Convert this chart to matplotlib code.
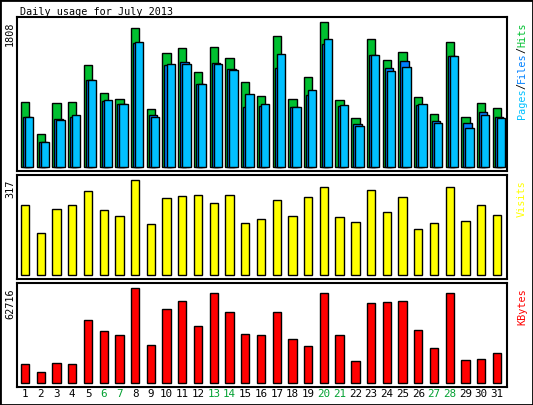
import matplotlib
matplotlib.use("Agg")
import matplotlib.pyplot as plt
from matplotlib.patches import Rectangle

days = list(range(1, 32))
weekend = [6, 7, 13, 14, 20, 21, 27, 28]
hits = [810,411,798,810,1272,923,848,1733,723,1421,1484,1184,1496,1359,1060,885,1633,848,1122,1808,835,611,1596,1334,1434,873,661,1558,623,798,736]
files = [623,312,598,623,1085,823,785,1546,648,1272,1309,1035,1297,1222,748,761,1234,748,898,1534,761,536,1396,1234,1322,773,574,1384,549,686,623]
pages = [623,312,586,648,1085,835,785,1559,623,1284,1284,1035,1284,1209,910,785,1409,748,960,1596,773,511,1396,1197,1247,785,549,1384,486,648,611]
visits = [234,140,220,234,280,217,197,317,170,257,264,267,240,267,174,187,250,197,260,294,194,177,284,210,260,154,174,294,180,234,200]
kbytes = [12543,7262,13204,12543,41591,34329,31689,62716,25087,48853,54135,37630,59416,46873,32349,31689,46873,29048,24427,59416,31689,14524,52815,53475,54135,34990,23106,59416,15184,15844,19806]

W, H = 533, 405
fig = plt.figure(figsize=(W/100, H/100), dpi=100, facecolor="white")
fig.add_artist(Rectangle((0, 0), 1, 1, transform=fig.transFigure, fill=False, edgecolor="black", lw=2))
mono = "DejaVu Sans Mono"

def ax_at(top, bottom, left=17, right=507):
    a = fig.add_axes([left/W, 1-bottom/H, (right-left)/W, (bottom-top)/H])
    a.set_xlim(0.49, 31.64)
    a.set_xticks([]); a.set_yticks([])
    for s in a.spines.values():
        s.set_linewidth(1.5); s.set_edgecolor("black")
    return a

def fy(py):
    return 1 - py/H

bw = 0.53
ek = dict(edgecolor="black", linewidth=1)
a1 = ax_at(17, 171)
a1.set_ylim(-46, 1874)
a1.bar([d for d in days], hits, width=bw, color="#00C030", **ek)
a1.bar([d+0.13 for d in days], files, width=bw, color="#0080FF", **ek)
a1.bar([d+0.26 for d in days], pages, width=bw, color="#00C0FF", **ek)

a2 = ax_at(175, 279)
a2.set_ylim(-12, 335)
a2.bar(days, visits, width=bw, color="#FFFF00", **ek)

a3 = ax_at(283, 387)
a3.set_ylim(-2442, 66210)
a3.bar(days, kbytes, width=bw, color="#FF0000", **ek)

fs = 7.3
fig.text(20/W, fy(12), "Daily usage for July 2013", family=mono, fontsize=fs, va="center", ha="left")
fig.text(10/W, fy(22), "1808", family=mono, fontsize=fs, rotation=90, va="top", ha="center")
fig.text(10/W, fy(180), "317", family=mono, fontsize=fs, rotation=90, va="top", ha="center")
fig.text(10/W, fy(288), "62716", family=mono, fontsize=fs, rotation=90, va="top", ha="center")

xr = 522/W
segs = [("Pages", 119, "#00C0FF"), ("/", 89, "black"), ("Files", 83, "#0080FF"), ("/", 53, "black"), ("Hits", 47, "#00C030")]
for t, b, c in segs:
    fig.text(xr, fy(b), t, family=mono, fontsize=fs, rotation=90, va="bottom", ha="center", color=c)
fig.text(xr, fy(180), "Visits", family=mono, fontsize=fs, rotation=90, va="top", ha="center", color="#FFFF00")
fig.text(xr, fy(288), "KBytes", family=mono, fontsize=fs, rotation=90, va="top", ha="center", color="#FF0000")

for d in days:
    x = a3.transData.transform((d, 0))[0] / W
    fig.text(x, fy(394), str(d), family=mono, fontsize=fs+0.5, ha="center", va="center",
             color="#00A030" if d in weekend else "black")

fig.savefig("out.png", dpi=100, facecolor="white")
